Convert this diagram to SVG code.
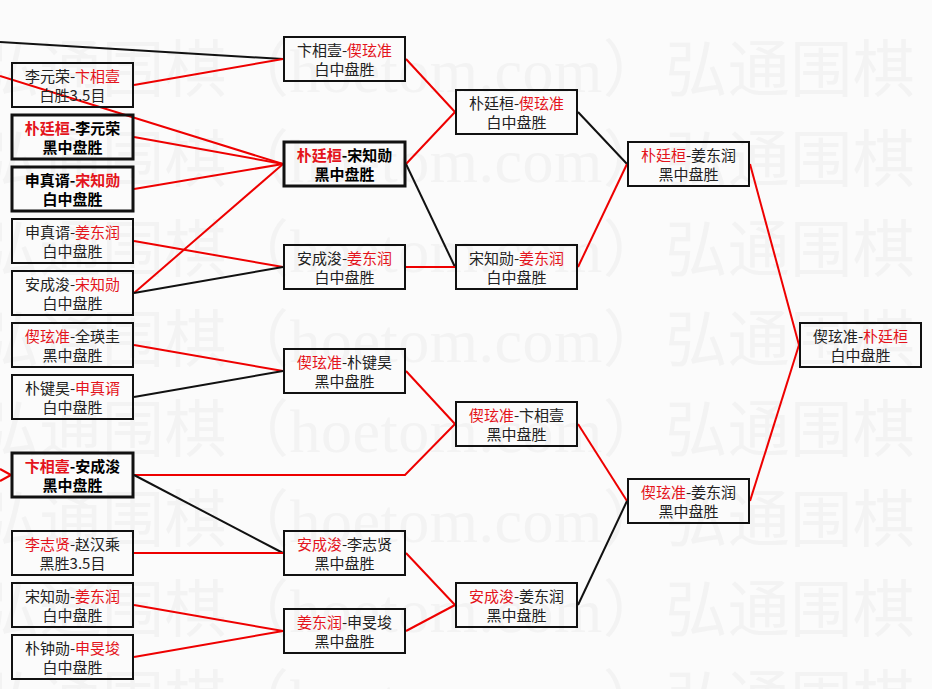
<svg xmlns="http://www.w3.org/2000/svg" width="932" height="689" viewBox="0 0 932 689">
<style>
.bg{fill:#fbfbfb}
.wm{font-family:"Liberation Serif","Noto Sans CJK SC",serif;font-size:62px;fill:#f3f3f3}
.box{fill:none;stroke:#111;stroke-width:2}
.box.hl{stroke-width:3}
.t{font-family:"Noto Sans CJK SC","Noto Sans CJK TC",sans-serif;font-size:15px;fill:#222;text-anchor:middle}
.hl .t{font-weight:bold;fill:#000}
.w{fill:#e4141c}
.r{stroke:#ee0000;stroke-width:2;fill:none}
.k{stroke:#111;stroke-width:2;fill:none}
</style>
<rect class="bg" x="0" y="0" width="932" height="689"/>
<g id="watermark">
<text class="wm" x="-23" y="92" textLength="1376" lengthAdjust="spacing">弘通围棋（hoetom.com）弘通围棋（hoetom.com）</text>
<text class="wm" x="-23" y="182" textLength="1376" lengthAdjust="spacing">弘通围棋（hoetom.com）弘通围棋（hoetom.com）</text>
<text class="wm" x="-23" y="272" textLength="1376" lengthAdjust="spacing">弘通围棋（hoetom.com）弘通围棋（hoetom.com）</text>
<text class="wm" x="-23" y="362" textLength="1376" lengthAdjust="spacing">弘通围棋（hoetom.com）弘通围棋（hoetom.com）</text>
<text class="wm" x="-23" y="452" textLength="1376" lengthAdjust="spacing">弘通围棋（hoetom.com）弘通围棋（hoetom.com）</text>
<text class="wm" x="-23" y="542" textLength="1376" lengthAdjust="spacing">弘通围棋（hoetom.com）弘通围棋（hoetom.com）</text>
<text class="wm" x="-23" y="632" textLength="1376" lengthAdjust="spacing">弘通围棋（hoetom.com）弘通围棋（hoetom.com）</text>
<text class="wm" x="-23" y="722" textLength="1376" lengthAdjust="spacing">弘通围棋（hoetom.com）弘通围棋（hoetom.com）</text>
</g>
<g id="connectors">
<line class="k" x1="0" y1="42" x2="283" y2="59"/>
<line class="r" x1="134" y1="85" x2="283" y2="59"/>
<line class="r" x1="0" y1="76" x2="283" y2="164"/>
<line class="r" x1="134" y1="137" x2="283" y2="164"/>
<line class="r" x1="134" y1="189" x2="283" y2="164"/>
<line class="r" x1="134" y1="293" x2="283" y2="164"/>
<line class="r" x1="134" y1="241" x2="283" y2="267"/>
<line class="k" x1="134" y1="293" x2="283" y2="267"/>
<line class="r" x1="134" y1="345" x2="283" y2="371"/>
<line class="k" x1="134" y1="397" x2="283" y2="371"/>
<line class="r" x1="0" y1="469" x2="11" y2="475"/>
<line class="r" x1="0" y1="481" x2="11" y2="475"/>
<polyline class="r" points="134,475 405,475 455,424"/>
<line class="k" x1="134" y1="475" x2="283" y2="553"/>
<line class="r" x1="134" y1="553" x2="283" y2="553"/>
<line class="r" x1="134" y1="605" x2="283" y2="631"/>
<line class="r" x1="134" y1="657" x2="283" y2="631"/>
<line class="r" x1="406" y1="59" x2="455" y2="112"/>
<line class="r" x1="406" y1="164" x2="455" y2="112"/>
<line class="k" x1="406" y1="164" x2="455" y2="267"/>
<line class="r" x1="406" y1="267" x2="455" y2="267"/>
<line class="r" x1="406" y1="371" x2="455" y2="424"/>
<line class="r" x1="406" y1="553" x2="455" y2="605"/>
<line class="r" x1="406" y1="631" x2="455" y2="605"/>
<line class="k" x1="578" y1="112" x2="627" y2="164"/>
<line class="r" x1="578" y1="267" x2="627" y2="164"/>
<line class="r" x1="578" y1="424" x2="627" y2="501"/>
<line class="k" x1="578" y1="605" x2="627" y2="501"/>
<line class="r" x1="750" y1="164" x2="799" y2="345"/>
<line class="r" x1="750" y1="501" x2="799" y2="345"/>
</g>
<g id="r1-1"><rect class="box" x="12" y="63" width="121" height="44"/><text class="t" x="72.5" y="82">李元荣-<tspan class="w">卞相壹</tspan></text><text class="t" x="72.5" y="101">白胜3.5目</text></g>
<g id="r1-2" class="hl"><rect class="box hl" x="12" y="115" width="121" height="44"/><text class="t" x="72.5" y="134"><tspan class="w">朴廷桓</tspan>-李元荣</text><text class="t" x="72.5" y="153">黑中盘胜</text></g>
<g id="r1-3" class="hl"><rect class="box hl" x="12" y="167" width="121" height="44"/><text class="t" x="72.5" y="186">申真谞-<tspan class="w">宋知勋</tspan></text><text class="t" x="72.5" y="205">白中盘胜</text></g>
<g id="r1-4"><rect class="box" x="12" y="219" width="121" height="44"/><text class="t" x="72.5" y="238">申真谞-<tspan class="w">姜东润</tspan></text><text class="t" x="72.5" y="257">白中盘胜</text></g>
<g id="r1-5"><rect class="box" x="12" y="271" width="121" height="44"/><text class="t" x="72.5" y="290">安成浚-<tspan class="w">宋知勋</tspan></text><text class="t" x="72.5" y="309">白中盘胜</text></g>
<g id="r1-6"><rect class="box" x="12" y="323" width="121" height="44"/><text class="t" x="72.5" y="342"><tspan class="w">偰玹准</tspan>-全瑛圭</text><text class="t" x="72.5" y="361">黑中盘胜</text></g>
<g id="r1-7"><rect class="box" x="12" y="375" width="121" height="44"/><text class="t" x="72.5" y="394">朴键昊-<tspan class="w">申真谞</tspan></text><text class="t" x="72.5" y="413">白中盘胜</text></g>
<g id="r1-8" class="hl"><rect class="box hl" x="12" y="453" width="121" height="44"/><text class="t" x="72.5" y="472"><tspan class="w">卞相壹</tspan>-安成浚</text><text class="t" x="72.5" y="491">黑中盘胜</text></g>
<g id="r1-9"><rect class="box" x="12" y="531" width="121" height="44"/><text class="t" x="72.5" y="550"><tspan class="w">李志贤</tspan>-赵汉乘</text><text class="t" x="72.5" y="569">黑胜3.5目</text></g>
<g id="r1-10"><rect class="box" x="12" y="583" width="121" height="44"/><text class="t" x="72.5" y="602">宋知勋-<tspan class="w">姜东润</tspan></text><text class="t" x="72.5" y="621">白中盘胜</text></g>
<g id="r1-11"><rect class="box" x="12" y="635" width="121" height="44"/><text class="t" x="72.5" y="654">朴钟勋-<tspan class="w">申旻埈</tspan></text><text class="t" x="72.5" y="673">白中盘胜</text></g>
<g id="r2-1"><rect class="box" x="284" y="37" width="121" height="44"/><text class="t" x="344.5" y="56">卞相壹-<tspan class="w">偰玹准</tspan></text><text class="t" x="344.5" y="75">白中盘胜</text></g>
<g id="r2-2" class="hl"><rect class="box hl" x="284" y="142" width="121" height="44"/><text class="t" x="344.5" y="161"><tspan class="w">朴廷桓</tspan>-宋知勋</text><text class="t" x="344.5" y="180">黑中盘胜</text></g>
<g id="r2-3"><rect class="box" x="284" y="245" width="121" height="44"/><text class="t" x="344.5" y="264">安成浚-<tspan class="w">姜东润</tspan></text><text class="t" x="344.5" y="283">白中盘胜</text></g>
<g id="r2-4"><rect class="box" x="284" y="349" width="121" height="44"/><text class="t" x="344.5" y="368"><tspan class="w">偰玹准</tspan>-朴键昊</text><text class="t" x="344.5" y="387">黑中盘胜</text></g>
<g id="r2-5"><rect class="box" x="284" y="531" width="121" height="44"/><text class="t" x="344.5" y="550"><tspan class="w">安成浚</tspan>-李志贤</text><text class="t" x="344.5" y="569">黑中盘胜</text></g>
<g id="r2-6"><rect class="box" x="284" y="609" width="121" height="44"/><text class="t" x="344.5" y="628"><tspan class="w">姜东润</tspan>-申旻埈</text><text class="t" x="344.5" y="647">黑中盘胜</text></g>
<g id="r3-1"><rect class="box" x="456" y="90" width="121" height="44"/><text class="t" x="516.5" y="109">朴廷桓-<tspan class="w">偰玹准</tspan></text><text class="t" x="516.5" y="128">白中盘胜</text></g>
<g id="r3-2"><rect class="box" x="456" y="245" width="121" height="44"/><text class="t" x="516.5" y="264">宋知勋-<tspan class="w">姜东润</tspan></text><text class="t" x="516.5" y="283">白中盘胜</text></g>
<g id="r3-3"><rect class="box" x="456" y="402" width="121" height="44"/><text class="t" x="516.5" y="421"><tspan class="w">偰玹准</tspan>-卞相壹</text><text class="t" x="516.5" y="440">黑中盘胜</text></g>
<g id="r3-4"><rect class="box" x="456" y="583" width="121" height="44"/><text class="t" x="516.5" y="602"><tspan class="w">安成浚</tspan>-姜东润</text><text class="t" x="516.5" y="621">黑中盘胜</text></g>
<g id="r4-1"><rect class="box" x="628" y="142" width="121" height="44"/><text class="t" x="688.5" y="161"><tspan class="w">朴廷桓</tspan>-姜东润</text><text class="t" x="688.5" y="180">黑中盘胜</text></g>
<g id="r4-2"><rect class="box" x="628" y="479" width="121" height="44"/><text class="t" x="688.5" y="498"><tspan class="w">偰玹准</tspan>-姜东润</text><text class="t" x="688.5" y="517">黑中盘胜</text></g>
<g id="final"><rect class="box" x="800" y="323" width="121" height="44"/><text class="t" x="860.5" y="342">偰玹准-<tspan class="w">朴廷桓</tspan></text><text class="t" x="860.5" y="361">白中盘胜</text></g>
</svg>
